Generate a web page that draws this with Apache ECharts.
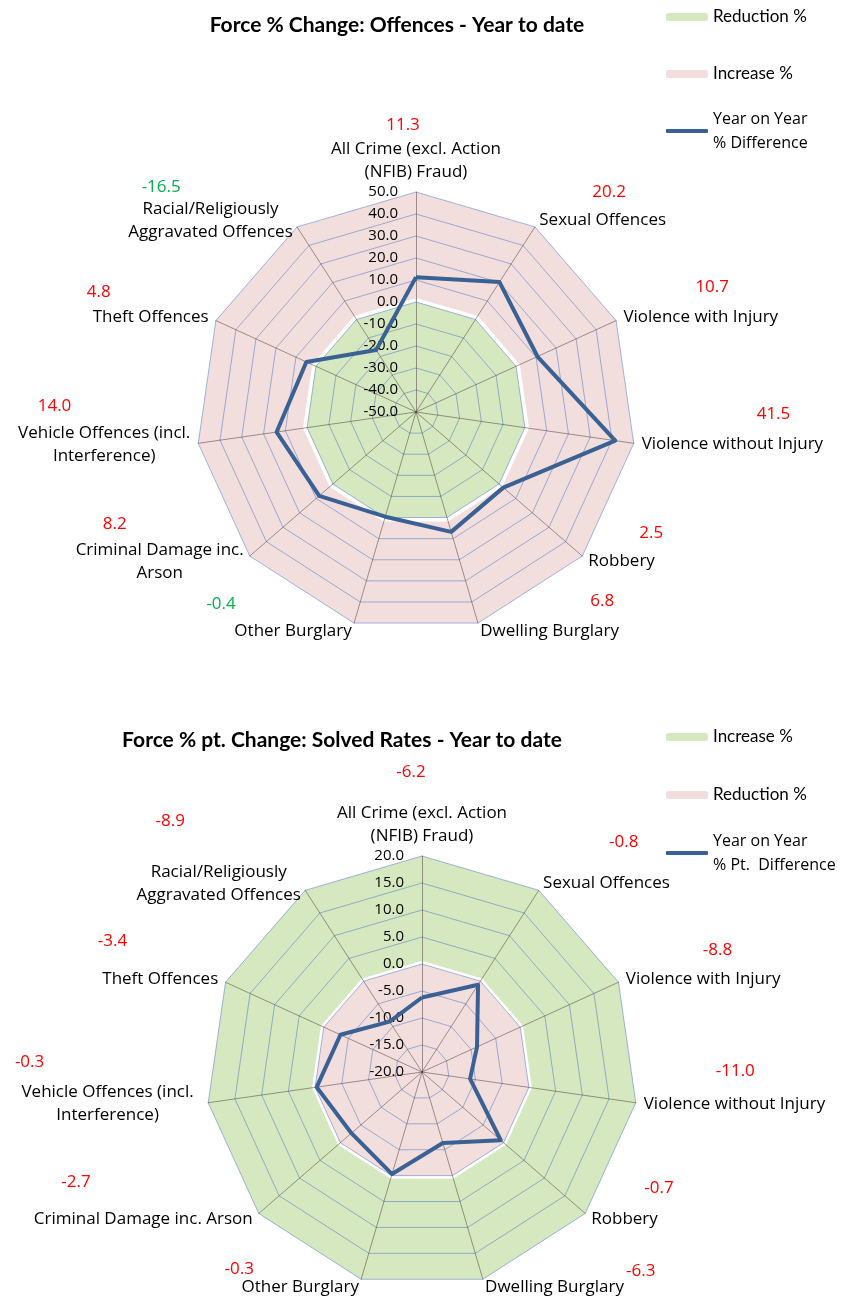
<!DOCTYPE html>
<html>
<head>
<meta charset="utf-8">
<script src="https://cdn.jsdelivr.net/npm/echarts@6/dist/echarts.min.js"></script>
<style>
  html, body { margin: 0; padding: 0; background: #fff; }
  .chart { position: absolute; left: 0; width: 843px; }
  #offences { top: 0; height: 690px; }
  #solved { top: 690px; height: 607px; }
</style>
</head>
<body>
<div id="offences" class="chart"></div>
<div id="solved" class="chart"></div>
<script>
// ---- data (clockwise from the top) ----
const offenceCategories = [
  "All Crime (excl. Action\n(NFIB) Fraud)",
  "Sexual Offences",
  "Violence with Injury",
  "Violence without Injury",
  "Robbery",
  "Dwelling Burglary",
  "Other Burglary",
  "Criminal Damage inc.\nArson",
  "Vehicle Offences (incl.\nInterference)",
  "Theft Offences",
  "Racial/Religiously\nAggravated Offences"
];
const solvedCategories = [
  "All Crime (excl. Action\n(NFIB) Fraud)",
  "Sexual Offences",
  "Violence with Injury",
  "Violence without Injury",
  "Robbery",
  "Dwelling Burglary",
  "Other Burglary",
  "Criminal Damage inc. Arson",
  "Vehicle Offences (incl.\nInterference)",
  "Theft Offences",
  "Racial/Religiously\nAggravated Offences"
];

const offenceDifference = [11.3, 20.2, 10.7, 41.5, 2.5, 6.8, -0.4, 8.2, 14.0, 4.8, -16.5];
const offenceReduction = [0, 0, 0, 0, 0, 0, 0, 0, 0, 0, 0];
const offenceIncrease = [50, 50, 50, 50, 50, 50, 50, 50, 50, 50, 50];
const offenceTicks = [-50, -40, -30, -20, -10, 0, 10, 20, 30, 40, 50];

const solvedDifference = [-6.2, -0.8, -8.8, -11.0, -0.7, -6.3, -0.3, -2.7, -0.3, -3.4, -8.9];
const solvedIncrease = [20, 20, 20, 20, 20, 20, 20, 20, 20, 20, 20];
const solvedReduction = [0, 0, 0, 0, 0, 0, 0, 0, 0, 0, 0];
const solvedTicks = [-20, -15, -10, -5, 0, 5, 10, 15, 20];

// ---- styles ----
const FONT = "Open Sans";
const TITLE_FONT = "Lato";
const PINK = "#f2dedd";
const GREEN = "#d6e8c0";
const NAVY = "#3a6193";
const RED = "#ff0000";
const GOOD = "#00b050";

// value label placement next to each axis name (px)
const offenceValuePad = [-13, 53, 72, 115, 51, 110, 116, 117, 119, 98, 112];
const offenceValueRise = [24, 28, 30, 30, 28, 30, 27, 26, 27, 25, 22];
const solvedValuePad = [-11, 66, 77, 72, 53, 141, 105, 162, 156, 91, 116];
const solvedValueRise = [41, 41, 29, 33, 31, 16, 18, 37, 30, 38, 51];

const buildOption = (cfg) => {
  const count = cfg.categories.length;
  // echarts lays radar indicators out counter-clockwise, the source is clockwise
  const order = [0];
  for (let i = count - 1; i > 0; i--) order.push(i);
  const pick = (arr) => order.map((i) => arr[i]);

  const rich = {};
  const nameLine = 23;

  cfg.categories.forEach((name, i) => {
    const side = i === 0 ? "center" : i <= count / 2 ? "left" : "right";
    const multi = name.includes("\n");
    const value = cfg.values[i];
    const hv = Math.max(2 * (cfg.valueRise[i] - nameLine / 2), 4);
    const pad = cfg.valuePad[i];
    let padding;
    if (side === "left") padding = [0, 0, 0, pad];
    else if (side === "right") padding = [0, pad, 0, 0];
    else padding = pad > 0 ? [0, 0, 0, 2 * pad] : [0, -2 * pad, 0, 0];

    rich["v" + i] = {
      color: value * cfg.goodSign > 0 ? GOOD : RED,
      fontFamily: FONT,
      fontSize: 17,
      lineHeight: hv,
      align: side,
      padding,
    };
    rich["n" + i] = {
      color: "#000",
      fontFamily: FONT,
      fontSize: 17,
      lineHeight: nameLine,
      align: multi ? "center" : side,
    };
    rich["s" + i] = { fontSize: 10, lineHeight: hv };
  });

  const legend = (name, color, centerY, isLine) => ({
    data: [{ name, icon: "roundRect", itemStyle: { color } }],
    left: 666,
    top: isLine ? centerY - 36 : centerY - 10,
    padding: 0,
    itemWidth: 42,
    itemHeight: isLine ? 4 : 8,
    selectedMode: false,
    textStyle: isLine
      ? { fontFamily: FONT, fontSize: 16, color: "#000", lineHeight: 24, padding: [24, 0, 0, 0] }
      : { fontFamily: TITLE_FONT, fontSize: 17, color: "#000", lineHeight: 20 },
  });

  return {
    animation: false,
    title: {
      text: cfg.title,
      left: cfg.titleX,
      top: cfg.titleTop,
      textAlign: "center",
      padding: 0,
      textStyle: { fontFamily: TITLE_FONT, fontWeight: "bold", fontSize: 21, color: "#000" },
    },
    legend: [
      legend(cfg.inner.name, cfg.inner.color, cfg.legendY[0], false),
      legend(cfg.outer.name, cfg.outer.color, cfg.legendY[1], false),
      legend(cfg.lineName, NAVY, cfg.legendY[2], true),
    ],
    radar: {
      center: cfg.center,
      radius: cfg.radius,
      startAngle: 90,
      shape: "polygon",
      z: 2,
      splitNumber: cfg.ticks.length - 1,
      indicator: pick(cfg.categories).map((name, k) => ({
        name,
        min: cfg.ticks[0],
        max: cfg.ticks[cfg.ticks.length - 1],
        axisLabel: { show: k === 0 },
      })),
      nameGap: 8,
      axisName: {
        formatter: (name) => {
          const i = cfg.categories.indexOf(name);
          const value = cfg.values[i].toFixed(1);
          let text = `{v${i}|${value}}\n` + name.split("\n").map((l) => `{n${i}|${l}}`).join("\n");
          if (i !== 0) text += `\n{s${i}| }`;
          return text;
        },
        rich,
      },
      axisLine: { lineStyle: { color: "rgba(70,55,55,0.5)", width: 1 } },
      axisTick: { show: false },
      splitLine: { lineStyle: { color: "rgba(40,90,190,0.42)", width: 1 } },
      splitArea: { show: false },
      axisLabel: {
        show: false,
        color: "#000",
        fontFamily: FONT,
        fontSize: 15,
        margin: 18,
        formatter: (v) => Number(v).toFixed(1),
      },
    },
    series: [
      {
        type: "radar",
        name: cfg.outer.name,
        z: 1,
        silent: true,
        symbol: "none",
        itemStyle: { color: cfg.outer.color },
        lineStyle: { color: "#fff", width: cfg.outer.border },
        areaStyle: { color: cfg.outer.color, opacity: 1 },
        data: [{ name: cfg.outer.name, value: pick(cfg.outer.values) }],
      },
      {
        type: "radar",
        name: cfg.inner.name,
        z: 1,
        silent: true,
        symbol: "none",
        itemStyle: { color: cfg.inner.color },
        lineStyle: { color: "#fff", width: cfg.inner.border },
        areaStyle: { color: cfg.inner.color, opacity: 1 },
        data: [{ name: cfg.inner.name, value: pick(cfg.inner.values) }],
      },
      {
        type: "radar",
        name: cfg.lineName,
        z: 3,
        symbol: "none",
        itemStyle: { color: NAVY },
        lineStyle: { color: NAVY, width: 4 },
        data: [{ name: cfg.lineName, value: pick(cfg.values) }],
      },
    ],
  };
};

const offencesChart = echarts.init(document.getElementById("offences"));
offencesChart.setOption(
  buildOption({
    title: "Force % Change: Offences - Year to date",
    titleX: 397,
    titleTop: 15,
    center: [416, 412],
    radius: 220,
    categories: offenceCategories,
    ticks: offenceTicks,
    values: offenceDifference,
    goodSign: -1,
    valuePad: offenceValuePad,
    valueRise: offenceValueRise,
    lineName: "Year on Year\n% Difference",
    inner: { name: "Reduction %", color: GREEN, values: offenceReduction, border: 8 },
    outer: { name: "Increase %", color: PINK, values: offenceIncrease, border: 10 },
    legendY: [17, 74, 131],
  })
);

const solvedChart = echarts.init(document.getElementById("solved"));
solvedChart.setOption(
  buildOption({
    title: "Force % pt. Change: Solved Rates - Year to date",
    titleX: 342,
    titleTop: 40,
    center: [422, 382],
    radius: 216,
    categories: solvedCategories,
    ticks: solvedTicks,
    values: solvedDifference,
    goodSign: 1,
    valuePad: solvedValuePad,
    valueRise: solvedValueRise,
    lineName: "Year on Year\n% Pt.  Difference",
    inner: { name: "Reduction %", color: PINK, values: solvedReduction, border: 6 },
    outer: { name: "Increase %", color: GREEN, values: solvedIncrease, border: 2 },
    legendY: [105, 47, 163],
  })
);
</script>
</body>
</html>
